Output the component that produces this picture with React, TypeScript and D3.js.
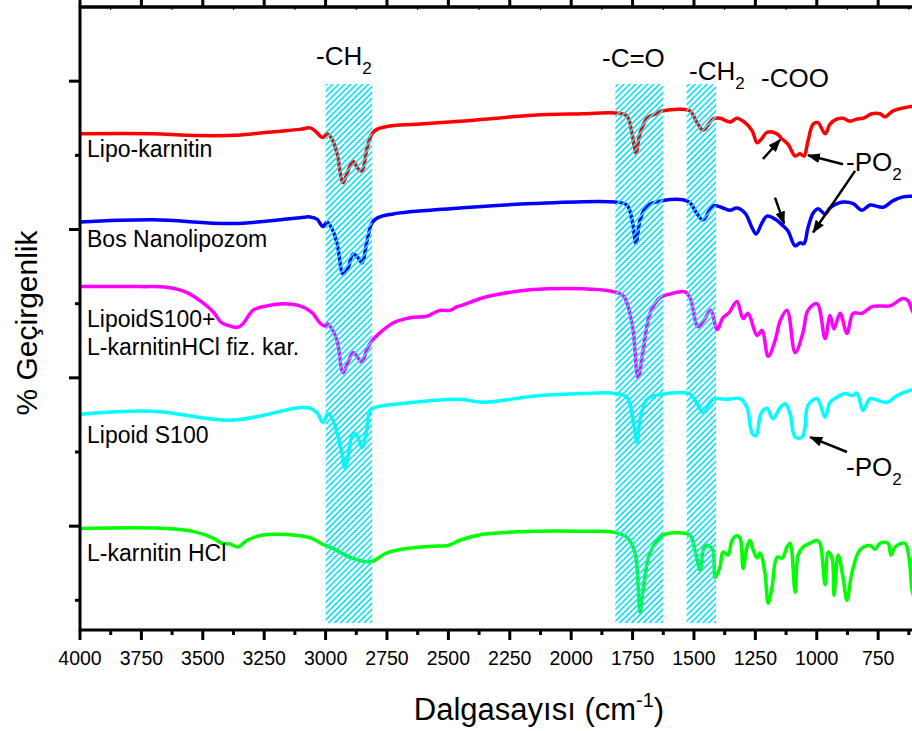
import React, { useEffect, useRef } from 'react';
import * as d3 from 'd3';

// FTIR spectra, [wavenumber cm-1, stacked transmittance]
const lipoKarnitin: [number, number][] = [
  [4000, 52.9], [3703, 52.9], [3564, 52.7], [3377, 52.7], [3239, 53.1], [3104, 53.5], [3063, 53.7],
  [3043, 53.3], [3011, 52.4], [2994, 52.9], [2974, 52.2], [2953, 50.2], [2929, 46.3], [2909, 47.9],
  [2888, 49.2], [2868, 48.2], [2852, 47.9], [2831, 51.0], [2811, 52.9], [2791, 53.5], [2750, 53.9],
  [2628, 54.2], [2453, 54.6], [2155, 55.4], [1952, 55.6], [1821, 55.7], [1773, 55.3], [1752, 52.9],
  [1736, 50.3], [1720, 52.9], [1691, 55.0], [1650, 55.7], [1626, 56.0], [1545, 56.2], [1516, 56.0],
  [1487, 54.4], [1463, 53.4], [1422, 54.9], [1394, 55.0], [1353, 54.5], [1325, 55.0], [1292, 54.4],
  [1263, 53.3], [1243, 51.7], [1223, 52.3], [1203, 53.1], [1162, 52.9], [1141, 52.2], [1117, 51.5],
  [1088, 49.9], [1068, 50.2], [1052, 49.9], [1036, 51.9], [1015, 54.2], [995, 54.4], [966, 52.9],
  [946, 54.2], [917, 54.9], [893, 55.0], [865, 54.6], [836, 54.9], [812, 55.0], [775, 55.6],
  [742, 55.6], [722, 55.2], [689, 56.0], [632, 56.5], [612, 56.6], [600, 56.6],
];

const bosNanolipozom: [number, number][] = [
  [4000, 41.0], [3703, 41.3], [3377, 40.8], [3104, 41.6], [3063, 41.7], [3035, 41.4], [3011, 40.4],
  [2994, 41.0], [2974, 40.1], [2953, 38.1], [2929, 34.0], [2909, 34.8], [2888, 36.7], [2868, 36.2],
  [2852, 35.5], [2831, 38.5], [2811, 40.9], [2787, 41.6], [2725, 42.1], [2493, 42.8], [2155, 43.5],
  [1821, 43.7], [1773, 43.3], [1752, 41.2], [1736, 38.1], [1720, 41.2], [1691, 43.2], [1626, 43.9],
  [1545, 44.0], [1516, 43.6], [1487, 42.1], [1463, 41.3], [1422, 43.2], [1382, 42.9], [1353, 42.6],
  [1325, 42.9], [1292, 42.2], [1263, 40.2], [1247, 39.4], [1223, 40.9], [1203, 41.8], [1170, 41.4],
  [1137, 40.5], [1117, 39.8], [1088, 37.8], [1068, 38.2], [1052, 38.1], [1036, 40.2], [1015, 42.2],
  [995, 42.8], [966, 42.1], [946, 42.9], [917, 43.5], [893, 43.7], [852, 43.5], [816, 42.6],
  [783, 43.3], [730, 43.0], [689, 43.9], [649, 44.4], [612, 44.5], [600, 44.5],
];

const lipoidKarnitinMix: [number, number][] = [
  [4000, 32.3], [3756, 32.3], [3646, 32.2], [3564, 31.5], [3499, 30.1], [3458, 28.9], [3422, 27.4],
  [3389, 27.0], [3361, 26.8], [3336, 27.3], [3296, 29.1], [3239, 29.7], [3173, 30.0], [3104, 29.7],
  [3055, 28.8], [3023, 27.4], [3002, 27.0], [2994, 27.3], [2974, 26.6], [2953, 25.0], [2929, 20.7],
  [2909, 22.1], [2888, 23.4], [2868, 22.7], [2852, 22.1], [2831, 23.9], [2811, 25.0], [2778, 26.1],
  [2725, 27.4], [2656, 28.1], [2587, 28.3], [2563, 28.7], [2534, 29.1], [2493, 29.1], [2465, 29.6],
  [2453, 29.7], [2359, 30.8], [2290, 31.3], [2155, 31.9], [1952, 32.0], [1842, 31.7], [1789, 31.1],
  [1752, 27.3], [1728, 20.0], [1707, 23.7], [1679, 28.7], [1638, 30.8], [1597, 31.3], [1536, 31.6],
  [1516, 30.8], [1483, 26.9], [1455, 28.0], [1431, 29.1], [1406, 26.5], [1382, 28.1], [1357, 28.8],
  [1325, 30.3], [1300, 28.0], [1280, 28.7], [1243, 25.7], [1223, 26.4], [1198, 22.9], [1170, 25.0],
  [1149, 27.7], [1121, 29.1], [1088, 23.4], [1056, 26.1], [1036, 29.1], [999, 30.0], [966, 25.3],
  [946, 28.4], [930, 26.6], [905, 28.7], [877, 26.0], [852, 28.7], [816, 28.7], [775, 29.6],
  [742, 29.7], [702, 29.7], [649, 30.7], [628, 30.4], [612, 29.1], [600, 28.4],
];

const lipoidS100: [number, number][] = [
  [4000, 15.1], [3703, 15.5], [3377, 14.3], [3104, 16.0], [3063, 15.9], [3035, 15.3], [3011, 14.0],
  [2990, 15.2], [2970, 14.3], [2949, 12.0], [2933, 9.8], [2921, 7.8], [2909, 9.3], [2888, 12.5],
  [2872, 12.2], [2852, 10.6], [2831, 13.3], [2819, 15.6], [2799, 16.0], [2697, 16.5], [2453, 17.1],
  [2359, 16.7], [2139, 17.6], [1952, 17.9], [1821, 17.9], [1773, 17.4], [1748, 14.3], [1732, 11.3],
  [1720, 14.3], [1691, 17.1], [1626, 17.8], [1545, 18.0], [1516, 17.8], [1487, 16.5], [1463, 15.3],
  [1422, 17.1], [1365, 17.1], [1312, 17.2], [1284, 16.0], [1263, 12.5], [1247, 12.2], [1227, 15.2],
  [1203, 15.9], [1178, 14.5], [1149, 16.0], [1129, 16.5], [1109, 15.2], [1088, 12.0], [1060, 12.0],
  [1048, 13.3], [1036, 16.3], [999, 17.2], [966, 14.7], [946, 16.7], [917, 17.4], [885, 17.9],
  [857, 17.6], [836, 17.9], [812, 15.6], [783, 17.2], [755, 17.0], [714, 16.7], [673, 17.6],
  [612, 18.4], [600, 18.5],
];

const lKarnitinHCl: [number, number][] = [
  [4000, -0.3], [3646, -0.3], [3540, -0.7], [3458, -1.6], [3422, -2.3], [3389, -2.4], [3357, -2.8],
  [3320, -1.9], [3255, -1.2], [3186, -1.1], [3104, -1.3], [3051, -1.7], [3015, -2.4], [2970, -3.0],
  [2901, -4.2], [2831, -4.8], [2807, -4.7], [2750, -3.6], [2668, -3.0], [2563, -2.7], [2501, -2.6],
  [2453, -1.9], [2359, -1.1], [2155, -0.7], [1952, -0.7], [1830, -0.8], [1773, -1.5], [1740, -3.6],
  [1720, -11.6], [1707, -8.6], [1679, -3.6], [1626, -1.2], [1557, -0.9], [1516, -1.2], [1496, -3.2],
  [1475, -5.9], [1455, -2.6], [1426, -3.0], [1414, -6.9], [1394, -5.5], [1382, -3.5], [1361, -3.9],
  [1345, -1.9], [1325, -1.3], [1312, -1.6], [1300, -5.7], [1284, -2.8], [1272, -1.9], [1259, -3.2],
  [1243, -4.3], [1231, -3.6], [1211, -6.3], [1198, -10.4], [1182, -8.2], [1162, -4.2], [1141, -4.3],
  [1121, -2.8], [1109, -2.3], [1088, -8.9], [1076, -3.9], [1056, -2.8], [1027, -2.3], [999, -1.9],
  [987, -2.3], [966, -7.9], [954, -3.5], [938, -4.3], [930, -9.3], [913, -3.9], [893, -6.9],
  [877, -10.0], [857, -6.3], [824, -3.2], [783, -2.6], [763, -3.1], [742, -2.3], [710, -2.3],
  [698, -3.9], [681, -2.8], [641, -2.3], [624, -4.3], [612, -8.6], [600, -10.0],
];

const seriesNames = ['Lipo-karnitin', 'Bos Nanolipozom', 'LipoidS100+', 'Lipoid S100', 'L-karnitin HCl'];
const seriesColors = ['#ff0000', '#0000ff', '#ff00ff', '#00ffff', '#00ff00'];
const seriesData = [lipoKarnitin, bosNanolipozom, lipoidKarnitinMix, lipoidS100, lKarnitinHCl];

// highlighted regions [from, to] in cm-1
const bands: [number, number][] = [[3000, 2810], [1820, 1625], [1530, 1410]];

const xMajor = [4000, 3750, 3500, 3250, 3000, 2750, 2500, 2250, 2000, 1750, 1500, 1250, 1000, 750];
const yMajor = [0, 20, 40, 60];
const yMinor = [-10, 10, 30, 50];

// arrows: [fromWn, fromT, toWn, toT]
const arrows: [number, number, number, number][] = [
  [893, 48.8, 1036, 50.0],
  [844, 47.9, 1015, 39.6],
  [1219, 49.5, 1149, 52.1],
  [1170, 44.3, 1133, 40.8],
  [877, 10.0, 1027, 12.0],
];

const FONT = '"Liberation Sans", Arial, sans-serif';

const App = () => {
  const svgRef = useRef<SVGSVGElement>(null);

  useEffect(() => {
    const width = 912;
    const height = 731;
    const left = 80, right = 915, top = 7, bottom = 630;

    const svg = d3.select(svgRef.current);
    svg.selectAll('*').remove();

    const x = d3.scaleLinear().domain([4000, 600]).range([left, right]);
    const y = d3.scaleLinear().domain([-14, 70]).range([bottom, top]);

    const defs = svg.append('defs');
    defs.append('clipPath').attr('id', 'plot-clip')
      .append('rect').attr('x', left).attr('y', top).attr('width', right - left).attr('height', bottom - top);

    const pat = defs.append('pattern')
      .attr('id', 'hatch')
      .attr('patternUnits', 'userSpaceOnUse')
      .attr('width', 4.2).attr('height', 10)
      .attr('patternTransform', 'rotate(45)');
    pat.append('rect').attr('x', 0).attr('y', 0).attr('width', 1.7).attr('height', 10).attr('fill', '#12e4f4');

    defs.append('marker')
      .attr('id', 'arrowhead')
      .attr('markerUnits', 'userSpaceOnUse')
      .attr('markerWidth', 13).attr('markerHeight', 10)
      .attr('refX', 12).attr('refY', 5)
      .attr('orient', 'auto')
      .append('path').attr('d', 'M0,0 L13,5 L0,10 Z').attr('fill', '#000');

    svg.append('rect').attr('width', width).attr('height', height).attr('fill', '#fff');

    const bandTop = 84, bandBottom = 623;
    svg.append('g').selectAll('rect').data(bands).enter().append('rect')
      .attr('x', d => x(d[0])).attr('width', d => x(d[1]) - x(d[0]))
      .attr('y', bandTop).attr('height', bandBottom - bandTop)
      .attr('fill', '#fff');

    const line = d3.line<[number, number]>()
      .x(d => x(d[0]))
      .y(d => y(d[1]))
      .curve(d3.curveCatmullRom.alpha(0.5));

    const plot = svg.append('g').attr('clip-path', 'url(#plot-clip)');
    seriesData.forEach((data, i) => {
      plot.append('path')
        .attr('d', line(data))
        .attr('fill', 'none')
        .attr('stroke', seriesColors[i])
        .attr('stroke-width', 3.5)
        .attr('stroke-linejoin', 'round');
    });

    // hatching sits on top of the curves
    svg.append('g').selectAll('rect').data(bands).enter().append('rect')
      .attr('x', d => x(d[0])).attr('width', d => x(d[1]) - x(d[0]))
      .attr('y', bandTop).attr('height', bandBottom - bandTop)
      .attr('fill', 'url(#hatch)');

    // axes
    const ax = svg.append('g').attr('stroke', '#000');
    ax.append('line').attr('x1', left).attr('x2', width).attr('y1', bottom).attr('y2', bottom).attr('stroke-width', 3);
    ax.append('line').attr('x1', left).attr('x2', width).attr('y1', top).attr('y2', top).attr('stroke-width', 3.5);
    ax.append('line').attr('x1', left).attr('x2', left).attr('y1', top - 1.5).attr('y2', bottom + 1.5).attr('stroke-width', 3);

    const xMinor = xMajor.map(v => v - 125).filter(v => v > 600);
    xMajor.forEach(v => {
      ax.append('line').attr('x1', x(v)).attr('x2', x(v)).attr('y1', bottom).attr('y2', bottom + 10).attr('stroke-width', 3);
      ax.append('line').attr('x1', x(v)).attr('x2', x(v)).attr('y1', top).attr('y2', top - 10).attr('stroke-width', 3);
    });
    xMinor.forEach(v => {
      ax.append('line').attr('x1', x(v)).attr('x2', x(v)).attr('y1', bottom).attr('y2', bottom + 5).attr('stroke-width', 3);
      ax.append('line').attr('x1', x(v)).attr('x2', x(v)).attr('y1', top + 1).attr('y2', top + 3).attr('stroke-width', 1);
    });
    yMajor.forEach(v => {
      ax.append('line').attr('x1', left).attr('x2', left - 11).attr('y1', y(v)).attr('y2', y(v)).attr('stroke-width', 3);
    });
    yMinor.forEach(v => {
      ax.append('line').attr('x1', left).attr('x2', left - 5).attr('y1', y(v)).attr('y2', y(v)).attr('stroke-width', 3);
    });

    svg.append('g').selectAll('text').data(xMajor).enter().append('text')
      .attr('x', d => x(d)).attr('y', 665)
      .attr('text-anchor', 'middle')
      .attr('font-family', FONT).attr('font-size', 19.5)
      .text(d => String(d));

    // axis titles
    svg.append('text')
      .attr('transform', 'translate(37,323) rotate(-90)')
      .attr('text-anchor', 'middle')
      .attr('font-family', FONT).attr('font-size', 30)
      .text('% Geçirgenlik');

    const xt = svg.append('text')
      .attr('x', 539).attr('y', 720)
      .attr('text-anchor', 'middle')
      .attr('font-family', FONT).attr('font-size', 31);
    xt.append('tspan').text('Dalgasayısı (cm');
    xt.append('tspan').attr('dy', -13).attr('font-size', 20).text('-1');
    xt.append('tspan').attr('dy', 13).text(')');

    // series labels
    const lbl = svg.append('g').attr('font-family', FONT).attr('font-size', 23).attr('fill', '#000');
    const labelLines: [string, number][] = [
      [seriesNames[0], 157],
      [seriesNames[1], 247],
      [seriesNames[2], 327],
      ['L-karnitinHCl fiz. kar.', 355],
      [seriesNames[3], 443],
      [seriesNames[4], 561],
    ];
    labelLines.forEach(([t, yy]) => {
      lbl.append('text').attr('x', 87).attr('y', yy).text(t);
    });

    // group annotations
    const ann = svg.append('g').attr('font-family', FONT).attr('font-size', 26).attr('fill', '#000');
    const sub = (txt: string, xx: number, yy: number, s?: string) => {
      const t = ann.append('text').attr('x', xx).attr('y', yy);
      t.append('tspan').text(txt);
      if (s) t.append('tspan').attr('dy', 9).attr('font-size', 17).text(s);
    };
    sub('-CH', 316, 65, '2');
    sub('-C=O', 602, 67);
    sub('-CH', 689, 80, '2');
    sub('-COO', 761, 87);
    sub('-PO', 846, 171, '2');
    sub('-PO', 846, 476, '2');

    svg.append('g').selectAll('line').data(arrows).enter().append('line')
      .attr('x1', d => x(d[0])).attr('y1', d => y(d[1]))
      .attr('x2', d => x(d[2])).attr('y2', d => y(d[3]))
      .attr('stroke', '#000').attr('stroke-width', 2.5)
      .attr('marker-end', 'url(#arrowhead)');
  }, []);

  return (
    <svg ref={svgRef} width={912} height={731} style={{ display: 'block', position: 'absolute', left: 0, top: 0 }} />
  );
};

export default App;
